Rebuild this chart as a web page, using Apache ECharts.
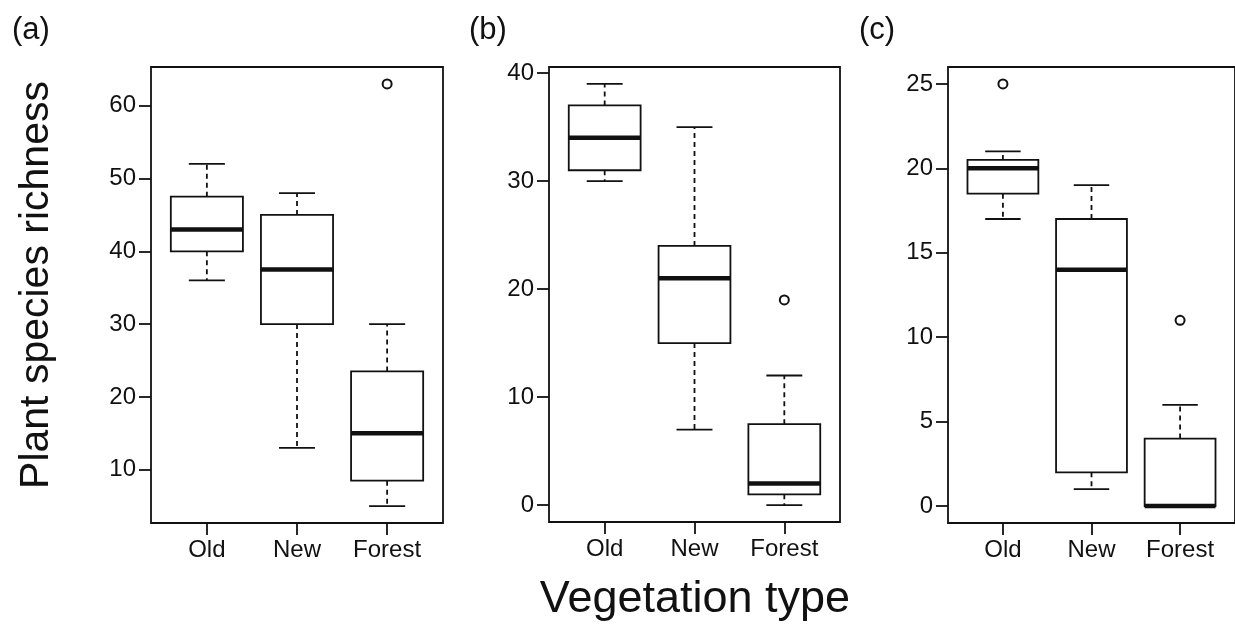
<!DOCTYPE html>
<html>
<head>
<meta charset="utf-8">
<script src="https://cdn.jsdelivr.net/npm/echarts@6/dist/echarts.min.js"></script>
<style>
html,body{margin:0;padding:0;background:#fff;}
#chart{width:1235px;height:624px;}
</style>
</head>
<body>
<div id="chart"></div>
<script>
// ---- data ----
const categories = ['Old', 'New', 'Forest'];
// [low whisker, Q1, median, Q3, high whisker]
const boxesA = [[36, 40, 43, 47.5, 52], [13, 30, 37.5, 45, 48], [5, 8.5, 15, 23.5, 30]];
const boxesB = [[30, 31, 34, 37, 39], [7, 15, 21, 24, 35], [0, 1, 2, 7.5, 12]];
const boxesC = [[17, 18.5, 20, 20.5, 21], [1, 2, 14, 17, 19], [0, 0, 0, 4, 6]];
// [category index (1-based), value]
const outliersA = [[3, 63]];
const outliersB = [[3, 19]];
const outliersC = [[1, 25], [3, 11]];
const ticksA = [10, 20, 30, 40, 50, 60];
const ticksB = [0, 10, 20, 30, 40];
const ticksC = [0, 5, 10, 15, 20, 25];
const panelLabels = ['(a)', '(b)', '(c)'];
const yTitle = 'Plant species richness';
const xTitle = 'Vegetation type';

// ---- layout / style ----
const FONT = '"Liberation Sans", Arial, Helvetica, sans-serif';
const INK = '#111';
const panels = [
  {boxes: boxesA, outl: outliersA, ticks: ticksA, grid: {left: 151, top: 67, width: 292, height: 456}},
  {boxes: boxesB, outl: outliersB, ticks: ticksB, grid: {left: 549, top: 67, width: 291, height: 455}},
  {boxes: boxesC, outl: outliersC, ticks: ticksC, grid: {left: 948, top: 67, width: 291, height: 456}}
];
function rRange(vals) {
  const mn = Math.min(...vals), mx = Math.max(...vals), d = (mx - mn) * 0.04;
  return [mn - d, mx + d];
}
const xIdx = categories.map((c, i) => i + 1);

const grids = [], xAxes = [], yAxes = [], series = [];
panels.forEach((p, k) => {
  const all = p.boxes.flat().concat(p.outl.map(o => o[1]));
  const yr = rRange(all);
  grids.push(Object.assign({show: true, borderColor: INK, borderWidth: 1.8, backgroundColor: 'transparent'}, p.grid));
  xAxes.push({
    type: 'value', gridIndex: k, min: 0.38, max: 3.62, position: 'bottom',
    splitLine: {show: false}, axisLine: {show: false, onZero: false},
    axisTick: {show: true, length: 12, lineStyle: {color: INK, width: 1.8}, customValues: xIdx},
    axisLabel: {show: true, margin: 15, color: INK, fontSize: 24, fontFamily: FONT,
      customValues: xIdx, formatter: v => categories[Math.round(v) - 1] || ''}
  });
  yAxes.push({
    type: 'value', gridIndex: k, min: yr[0], max: yr[1], position: 'left',
    splitLine: {show: false}, axisLine: {show: false, onZero: false},
    axisTick: {show: true, length: 12, lineStyle: {color: INK, width: 1.8}, customValues: p.ticks},
    axisLabel: {show: true, margin: 15, color: INK, fontSize: 24, fontFamily: FONT,
      customValues: p.ticks, formatter: v => String(v)}
  });
  series.push({
    type: 'custom', xAxisIndex: k, yAxisIndex: k, z: 2,
    data: p.boxes.map((b, i) => [i + 1].concat(b)),
    encode: {x: 0, y: [1, 2, 3, 4, 5]},
    renderItem: function (params, api) {
      const x = api.value(0);
      const lo = api.coord([x, api.value(1)]);
      const q1 = api.coord([x, api.value(2)]);
      const md = api.coord([x, api.value(3)]);
      const q3 = api.coord([x, api.value(4)]);
      const hi = api.coord([x, api.value(5)]);
      const bw = api.size([0.8, 0])[0];
      const cw = api.size([0.4, 0])[0];
      const cx = lo[0];
      const solid = {stroke: INK, lineWidth: 1.8, fill: null};
      const dashed = {stroke: INK, lineWidth: 1.8, lineDash: [5, 4], fill: null};
      return {
        type: 'group',
        children: [
          {type: 'line', shape: {x1: cx, y1: q3[1], x2: cx, y2: hi[1]}, style: dashed},
          {type: 'line', shape: {x1: cx, y1: q1[1], x2: cx, y2: lo[1]}, style: dashed},
          {type: 'line', shape: {x1: cx - cw / 2, y1: hi[1], x2: cx + cw / 2, y2: hi[1]}, style: solid},
          {type: 'line', shape: {x1: cx - cw / 2, y1: lo[1], x2: cx + cw / 2, y2: lo[1]}, style: solid},
          {type: 'rect', shape: {x: cx - bw / 2, y: q3[1], width: bw, height: q1[1] - q3[1]},
            style: {stroke: INK, lineWidth: 1.8, fill: '#fff'}},
          {type: 'line', shape: {x1: cx - bw / 2, y1: md[1], x2: cx + bw / 2, y2: md[1]},
            style: {stroke: INK, lineWidth: 4.5}}
        ]
      };
    }
  });
  series.push({
    type: 'scatter', xAxisIndex: k, yAxisIndex: k, z: 3, data: p.outl,
    symbol: 'emptyCircle', symbolSize: 9,
    itemStyle: {color: INK, borderWidth: 1.6, opacity: 1}
  });
});

const chart = echarts.init(document.getElementById('chart'), null, {renderer: 'canvas'});
chart.setOption({
  animation: false,
  backgroundColor: '#fff',
  grid: grids, xAxis: xAxes, yAxis: yAxes, series: series,
  graphic: [
    {type: 'text', x: 12, y: 30, style: {text: panelLabels[0], font: '31px ' + FONT, fill: INK, textVerticalAlign: 'middle'}},
    {type: 'text', x: 469, y: 30, style: {text: panelLabels[1], font: '31px ' + FONT, fill: INK, textVerticalAlign: 'middle'}},
    {type: 'text', x: 859, y: 30, style: {text: panelLabels[2], font: '31px ' + FONT, fill: INK, textVerticalAlign: 'middle'}},
    {type: 'text', x: 37, y: 285, rotation: Math.PI / 2,
      style: {text: yTitle, font: '41px ' + FONT, fill: INK, textAlign: 'center', textVerticalAlign: 'middle'}},
    {type: 'text', x: 695, y: 600,
      style: {text: xTitle, font: '45px ' + FONT, fill: INK, textAlign: 'center', textVerticalAlign: 'middle'}}
  ]
});
</script>
</body>
</html>
